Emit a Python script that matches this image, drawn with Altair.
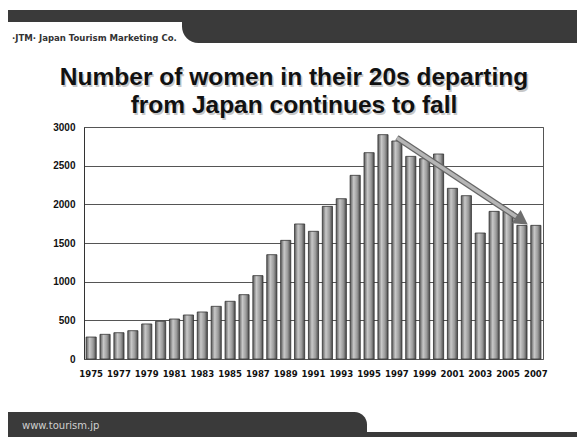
import altair as alt
import pandas as pd

years = list(range(1975, 2008))
values = [284, 319, 340, 366, 453, 487, 517, 569, 608, 681, 746, 832,
          1078, 1349, 1534, 1746, 1651, 1974, 2073, 2375, 2668, 2901, 2819,
          2620, 2590, 2651, 2207, 2112, 1629, 1909, 1909, 1728, 1728]

arrow_years = [1997, 2006]
arrow_values = [2860, 1790]

y_ticks = [0, 500, 1000, 1500, 2000, 2500, 3000]

title_lines = ["Number of women in their 20s departing", "from Japan continues to fall"]

df = pd.DataFrame({"year": years, "value": values})
arrow_df = pd.DataFrame({"year": arrow_years, "value": arrow_values})
head_df = arrow_df.iloc[[1]]

W, H = 459, 232
PL, PT = 84, 127

xenc = alt.X("year:O", title=None,
             scale=alt.Scale(paddingInner=0.27, paddingOuter=0.15),
             axis=alt.Axis(labelExpr="datum.value % 2 == 1 ? datum.value : ''",
                           labelAngle=0, ticks=False, domain=False, labelOverlap=False,
                           labelFont="DejaVu Sans Condensed", labelFontWeight="bold",
                           labelFontSize=9.5, labelColor="#111", labelPadding=9))
yscale = alt.Scale(domain=[0, 3000], nice=False)
yenc = alt.Y("value:Q", title=None, scale=yscale,
             axis=alt.Axis(values=y_ticks, format="d", labelOverlap=False, tickCount=7,
                           grid=True, gridColor="#555", gridWidth=1,
                           ticks=False, domain=True, domainColor="#333",
                           labelFont="Liberation Sans", labelFontWeight="bold",
                           labelFontSize=10, labelColor="#111", labelPadding=9))

grad = alt.Gradient(gradient="linear", x1=0, x2=1, y1=0, y2=0,
                    stops=[alt.GradientStop(color="#5a5a5a", offset=0),
                           alt.GradientStop(color="#c8c8c8", offset=0.35),
                           alt.GradientStop(color="#9a9a9a", offset=0.7),
                           alt.GradientStop(color="#4a4a4a", offset=1)])

bars = alt.Chart(df).mark_bar(fill=grad, stroke="#333", strokeWidth=0.8).encode(x=xenc, y=yenc)

arrow_outline = alt.Chart(arrow_df).mark_line(color="#666", strokeWidth=6, strokeCap="butt").encode(x=xenc, y=yenc)
arrow_inner = alt.Chart(arrow_df).mark_line(color="#b5b5b5", strokeWidth=3.5, strokeCap="butt").encode(x=xenc, y=yenc)
arrow_head = alt.Chart(head_df).mark_point(shape="triangle-right", size=260, filled=True,
                                           color="#6e6e6e", angle=34, opacity=1).encode(x=xenc, y=yenc)

deco = pd.DataFrame({"k": [0]})
dark = "#3a3a3a"

def rect(x1, x2, y1, y2, **kw):
    return alt.Chart(deco).mark_rect(color=dark, **kw).encode(
        x=alt.value(x1 - PL), x2=alt.value(x2 - PL), y=alt.value(y1 - PT), y2=alt.value(y2 - PT))

header_thin = rect(8, 210, 10, 22)
header_thick = rect(182, 577, 10, 43, cornerRadiusBottomLeft=20)
footer_thick = rect(8, 367, 412, 437, cornerRadiusTopRight=22)
footer_thin = rect(320, 577, 432, 437)

def text(t, x, y, **kw):
    return alt.Chart(pd.DataFrame({"t": [t]})).mark_text(**kw).encode(
        text="t:N", x=alt.value(x - PL), y=alt.value(y - PT))

header_text = text("·JTM· Japan Tourism Marketing Co.", 12, 38, align="left", baseline="middle",
                   font="DejaVu Sans Condensed", fontSize=9.5, fontWeight="bold", color="#333")
footer_text = text("www.tourism.jp", 22, 426, align="left", baseline="middle",
                   font="DejaVu Sans", fontSize=10, color="#d0d0d0")

title_layers = []
for i, line in enumerate(title_lines):
    yb = 85 + i * 28
    title_layers.append(text(line, 295.5, yb + 1.5, align="center", baseline="alphabetic",
                             font="Liberation Sans", fontSize=24.5, fontWeight="bold",
                             color="#bbbbbb", opacity=0.8))
    title_layers.append(text(line, 294, yb, align="center", baseline="alphabetic",
                             font="Liberation Sans", fontSize=24.5, fontWeight="bold",
                             color="#111"))

chart = alt.layer(
    bars, arrow_outline, arrow_inner, arrow_head,
    header_thin, header_thick, footer_thick, footer_thin,
    header_text, footer_text, *title_layers
).properties(
    width=W, height=H,
    autosize=alt.AutoSizeParams(type="none"),
    padding={"left": PL, "top": PT, "right": 577 - PL - W, "bottom": 437 - PT - H},
    background="white"
).configure_view(stroke="#555", strokeWidth=1)

chart.save("out.html", embed_options={"renderer": "svg", "actions": False})
